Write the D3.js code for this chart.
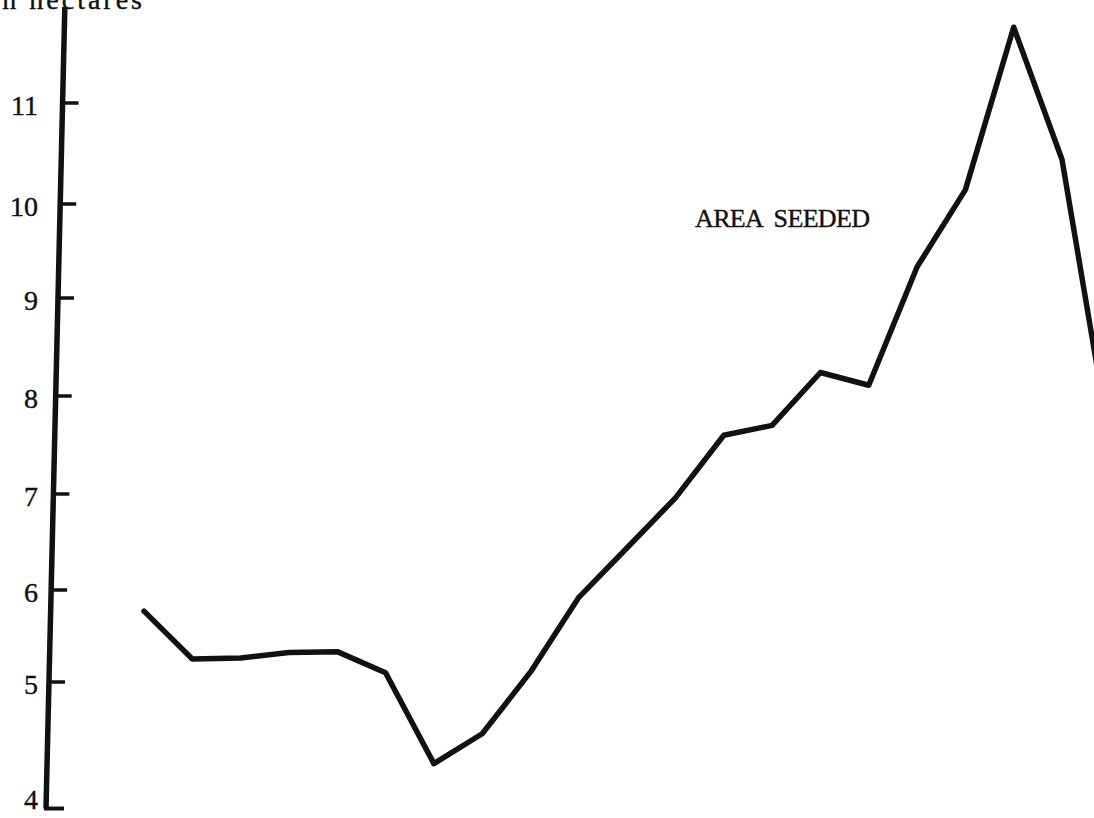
<!DOCTYPE html>
<html>
<head>
<meta charset="utf-8">
<script src="https://cdn.jsdelivr.net/npm/d3@7"></script>
<style>
  html, body { margin: 0; padding: 0; background: #fff; overflow: hidden; }
  svg { display: block; }
  text { font-family: "Liberation Serif", serif; fill: #111; stroke: #111; stroke-width: 0.4px; }
</style>
</head>
<body>
<div id="plot"></div>
<script>
// area seeded, million hectares, one value per year
const years = [1950, 1951, 1952, 1953, 1954, 1955, 1956, 1957, 1958, 1959, 1960,
  1961, 1962, 1963, 1964, 1965, 1966, 1967, 1968, 1969, 1970];
const areaSeeded = [5.77, 5.25, 5.26, 5.32, 5.33, 5.10, 4.29, 4.55, 5.11, 5.92, 6.44,
  6.96, 7.60, 7.70, 8.24, 8.11, 9.33, 10.14, 11.75, 10.44, 7.5];
const yTicks = [4, 5, 6, 7, 8, 9, 10, 11];
const yLabel = "Million hectares";
const seriesLabel = "AREA SEEDED";

const width = 1094;
const height = 818;

const svg = d3.select("#plot").append("svg")
  .attr("width", width)
  .attr("height", height);

const x = d3.scaleLinear()
  .domain([years[0], years[19]])
  .range([144, 1062]);

// hand drawn axis: spacing is not quite even, bottom segment is stretched
const y = d3.scaleLinear()
  .domain(yTicks)
  .range([797, 682, 590, 494, 396, 298, 204, 103]);

// the axis line leans a little, as in the scan
const axisX = py => 65 - 0.0235 * py;

const yTop = y(11.95), yBottom = y(3.9);

svg.append("line")
  .attr("x1", axisX(yTop)).attr("y1", yTop)
  .attr("x2", axisX(yBottom)).attr("y2", yBottom)
  .attr("stroke", "#111")
  .attr("stroke-width", 5.5);

// foot at the bottom
svg.append("line")
  .attr("x1", axisX(yBottom) - 2).attr("y1", yBottom)
  .attr("x2", axisX(yBottom) + 18).attr("y2", yBottom)
  .attr("stroke", "#111")
  .attr("stroke-width", 4);

svg.append("g")
  .selectAll("line")
  .data(yTicks.filter(t => t > 4))
  .join("line")
  .attr("x1", d => axisX(y(d)))
  .attr("x2", d => axisX(y(d)) + 16)
  .attr("y1", d => y(d))
  .attr("y2", d => y(d))
  .attr("stroke", "#111")
  .attr("stroke-width", 3.5);

// tick labels
const yAxis = svg.append("g")
  .attr("transform", "translate(38,0)")
  .call(d3.axisLeft(y).tickValues(yTicks).tickSize(0).tickPadding(0).tickFormat(d3.format("d")));
yAxis.select(".domain").remove();
yAxis.selectAll("text")
  .attr("dy", "0.42em")
  .style("font-family", "Liberation Serif, serif")
  .style("font-size", "28px")
  .attr("fill", "#111");

svg.append("text")
  .attr("x", 145)
  .attr("y", 9)
  .attr("text-anchor", "end")
  .style("font-size", "28px")
  .style("letter-spacing", "3px")
  .text(yLabel);

svg.append("text")
  .attr("x", 695)
  .attr("y", 227)
  .style("font-size", "26px")
  .style("word-spacing", "6px")
  .attr("textLength", 175)
  .text(seriesLabel);

const line = d3.line()
  .x((d, i) => x(years[i]))
  .y(d => y(d));

svg.append("path")
  .datum(areaSeeded)
  .attr("d", line)
  .attr("fill", "none")
  .attr("stroke", "#111")
  .attr("stroke-width", 5.5)
  .attr("stroke-linejoin", "round")
  .attr("stroke-linecap", "round");
</script>
</body>
</html>
